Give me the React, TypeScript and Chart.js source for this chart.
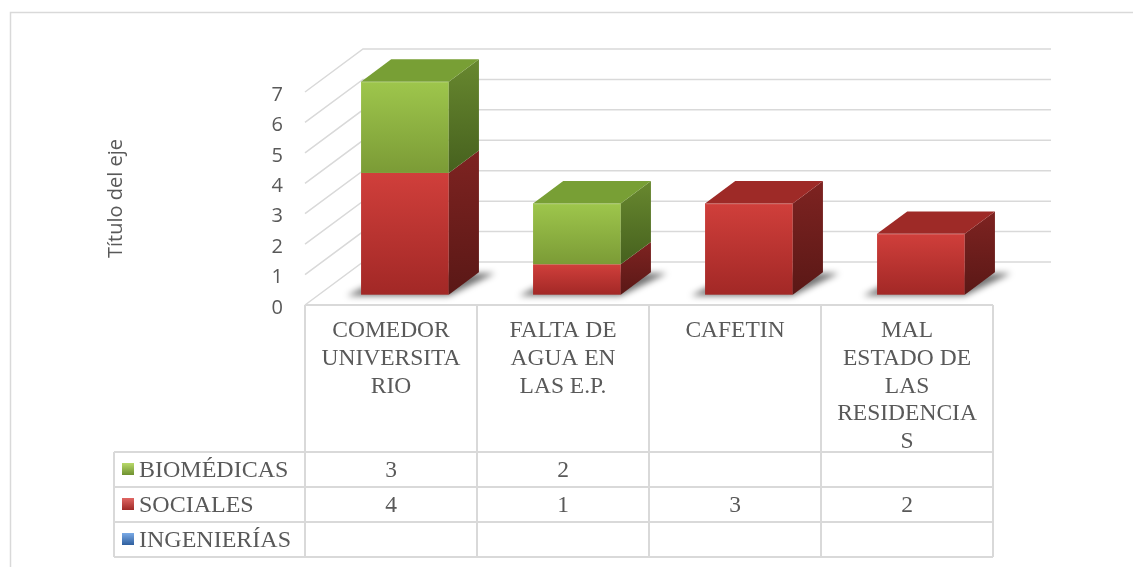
import React, { useEffect, useRef } from 'react';
import { Chart, registerables } from 'chart.js';

Chart.register(...registerables);

// ---- data ----
const categories = ['COMEDOR UNIVERSITARIO', 'FALTA DE AGUA EN LAS E.P.', 'CAFETIN', 'MAL ESTADO DE LAS RESIDENCIAS'];
const categoryLines = [
  ['COMEDOR', 'UNIVERSITA', 'RIO'],
  ['FALTA DE', 'AGUA EN', 'LAS E.P.'],
  ['CAFETIN'],
  ['MAL', 'ESTADO DE', 'LAS', 'RESIDENCIA', 'S'],
];
const ingenierias: (number | null)[] = [null, null, null, null];
const sociales: (number | null)[] = [4, 1, 3, 2];
const biomedicas: (number | null)[] = [3, 2, null, null];
const yTickValues = [0, 1, 2, 3, 4, 5, 6, 7];
const axisTitle = 'Título del eje';
const seriesNames = ['INGENIERÍAS', 'SOCIALES', 'BIOMÉDICAS'];

// ---- style ----
const DX = 58, DY = -43; // floor depth vector
const F0 = 0.24, F1 = 0.76; // bar depth (front/back fraction)
const GRID = '#d9d9d9';
const TEXT = '#595959';
const SERIF = '"Liberation Serif", "Times New Roman", serif';
const SANS = '"Open Sans", "Noto Sans", sans-serif';

const palette = [
  { f0: '#5b8fd0', f1: '#3a6aa8', s0: '#2f5588', s1: '#223f66', t: '#3f6fae', key0: '#7aaae6', key1: '#2f5f9e' },
  { f0: '#d03f3b', f1: '#a22826', s0: '#7e2321', s1: '#5a1816', t: '#9e2a27', key0: '#e06663', key1: '#9e2a27' },
  { f0: '#9ec64c', f1: '#7b9b36', s0: '#68882f', s1: '#46611e', t: '#789f35', key0: '#b8d96a', key1: '#6f9130' },
];

function drawBox(ctx: CanvasRenderingContext2D, xl: number, xr: number, yt: number, yb: number, col: any, drawTop: boolean) {
  const fx = DX * F0, fy = DY * F0;
  const dX = DX * (F1 - F0), dY = DY * (F1 - F0);
  const L = xl + fx, R = xr + fx, T = yt + fy, B = yb + fy;
  // front
  let g = ctx.createLinearGradient(0, T, 0, B);
  g.addColorStop(0, col.f0);
  g.addColorStop(1, col.f1);
  ctx.fillStyle = g;
  ctx.fillRect(L, T, R - L, B - T);
  // side
  ctx.beginPath();
  ctx.moveTo(R, T);
  ctx.lineTo(R + dX, T + dY);
  ctx.lineTo(R + dX, B + dY);
  ctx.lineTo(R, B);
  ctx.closePath();
  g = ctx.createLinearGradient(0, T + dY, 0, B);
  g.addColorStop(0, col.s0);
  g.addColorStop(1, col.s1);
  ctx.fillStyle = g;
  ctx.fill();
  if (drawTop) {
    ctx.beginPath();
    ctx.moveTo(L, T);
    ctx.lineTo(R, T);
    ctx.lineTo(R + dX, T + dY);
    ctx.lineTo(L + dX, T + dY);
    ctx.closePath();
    ctx.fillStyle = col.t;
    ctx.fill();
    ctx.strokeStyle = 'rgba(255,255,255,0.18)';
    ctx.lineWidth = 1;
    ctx.beginPath();
    ctx.moveTo(L + 1, T + 0.5);
    ctx.lineTo(R - 1, T + 0.5);
    ctx.stroke();
  }
}

const wallPlugin = {
  id: 'wall3d',
  beforeDatasetsDraw(chart: any) {
    const { ctx, chartArea } = chart;
    const y = chart.scales.y;
    ctx.save();
    ctx.strokeStyle = GRID;
    ctx.lineWidth = 1.5;
    yTickValues.forEach((v) => {
      const py = y.getPixelForValue(v);
      ctx.beginPath();
      ctx.moveTo(chartArea.left, py);
      ctx.lineTo(chartArea.left + DX, py + DY);
      ctx.lineTo(chartArea.right + DX, py + DY);
      ctx.stroke();
    });
    ctx.restore();
  },
};

const boxesPlugin = {
  id: 'boxes3d',
  afterDatasetsDraw(chart: any) {
    const { ctx } = chart;
    const n = chart.data.labels.length;
    const dsCount = chart.data.datasets.length;
    ctx.save();
    // shadows
    for (let j = 0; j < n; j++) {
      const m0 = chart.getDatasetMeta(0).data[j];
      const x0 = m0.x - m0.width / 2, x1 = m0.x + m0.width / 2;
      const base = chart.scales.y.getPixelForValue(0);
      let any = false;
      for (let i = 0; i < dsCount; i++) if (chart.data.datasets[i].data[j]) any = true;
      if (!any) continue;
      const fx = DX * F0, fy = DY * F0, bx = DX * F1, by = DY * F1;
      ctx.save();
      ctx.filter = 'blur(3px)';
      ctx.fillStyle = 'rgba(0,0,0,0.55)';
      ctx.beginPath();
      ctx.moveTo(x0 + fx - 14, base + fy + 1);
      ctx.lineTo(x1 + fx, base + fy + 1);
      ctx.lineTo(x1 + bx + 16, base + by + 1);
      ctx.lineTo(x0 + bx, base + by + 1);
      ctx.closePath();
      ctx.fill();
      ctx.restore();
    }
    // boxes
    for (let j = 0; j < n; j++) {
      let topIdx = -1;
      for (let i = 0; i < dsCount; i++) {
        const v = chart.data.datasets[i].data[j];
        if (v !== null && v !== undefined && v !== 0) topIdx = i;
      }
      for (let i = 0; i < dsCount; i++) {
        const v = chart.data.datasets[i].data[j];
        if (v === null || v === undefined || v === 0) continue;
        const el = chart.getDatasetMeta(i).data[j];
        const xl = el.x - el.width / 2, xr = el.x + el.width / 2;
        drawBox(ctx, xl, xr, Math.min(el.y, el.base), Math.max(el.y, el.base), palette[i], i === topIdx);
      }
    }
    ctx.restore();
  },
};

const tablePlugin = {
  id: 'dataTable',
  afterDraw(chart: any) {
    const { ctx, chartArea } = chart;
    const x = chart.scales.x;
    const n = chart.data.labels.length;
    const colW = (chartArea.right - chartArea.left) / n;
    const top = chartArea.bottom;
    const headerBottom = top + 147;
    const rowH = 35;
    const legendLeft = 114;
    const rows = [2, 1, 0]; // dataset indices, top to bottom
    const tableBottom = headerBottom + rowH * rows.length;
    ctx.save();
    ctx.strokeStyle = GRID;
    ctx.lineWidth = 2;
    ctx.beginPath();
    ctx.moveTo(chartArea.left, top);
    ctx.lineTo(chartArea.right, top);
    for (let c = 0; c <= n; c++) {
      const cx = chartArea.left + c * colW;
      ctx.moveTo(cx, top);
      ctx.lineTo(cx, tableBottom);
    }
    for (let r = 0; r <= rows.length; r++) {
      const ry = headerBottom + r * rowH;
      ctx.moveTo(legendLeft, ry);
      ctx.lineTo(chartArea.right, ry);
    }
    ctx.moveTo(legendLeft, headerBottom);
    ctx.lineTo(legendLeft, tableBottom);
    ctx.stroke();

    ctx.fillStyle = TEXT;
    ctx.font = `23.5px ${SERIF}`;
    ctx.textAlign = 'center';
    ctx.textBaseline = 'alphabetic';
    for (let j = 0; j < n; j++) {
      const cx = x.getPixelForValue(j);
      categoryLines[j].forEach((line, k) => {
        ctx.fillText(line, cx, top + 32 + k * 27.8);
      });
    }
    rows.forEach((dsi, r) => {
      const ry = headerBottom + r * rowH;
      const ds = chart.data.datasets[dsi];
      const col = palette[dsi];
      const kx = 122, ky = ry + 11, ks = 12;
      const g = ctx.createLinearGradient(0, ky, 0, ky + ks);
      g.addColorStop(0, col.key0);
      g.addColorStop(1, col.key1);
      ctx.fillStyle = g;
      ctx.fillRect(kx, ky, ks, ks);
      ctx.fillStyle = TEXT;
      ctx.textAlign = 'left';
      ctx.font = `24px ${SERIF}`;
      ctx.fillText(ds.label, 139, ry + 25);
      ctx.font = `23.5px ${SERIF}`;
      ctx.textAlign = 'center';
      for (let j = 0; j < n; j++) {
        const v = ds.data[j];
        if (v === null || v === undefined) continue;
        ctx.fillText(String(v), x.getPixelForValue(j), ry + 25);
      }
    });
    ctx.lineWidth = 1.5;
    ctx.strokeRect(10.5, 12.5, 1140, 600);
    ctx.restore();
  },
};

export default function App() {
  const ref = useRef<HTMLCanvasElement>(null);
  useEffect(() => {
    const chart = new Chart(ref.current!, {
      type: 'bar',
      data: {
        labels: categories,
        datasets: [
          { label: seriesNames[0], data: ingenierias, backgroundColor: 'rgba(0,0,0,0)', borderWidth: 0 },
          { label: seriesNames[1], data: sociales, backgroundColor: 'rgba(0,0,0,0)', borderWidth: 0 },
          { label: seriesNames[2], data: biomedicas, backgroundColor: 'rgba(0,0,0,0)', borderWidth: 0 },
        ],
      },
      options: {
        animation: false,
        responsive: false,
        devicePixelRatio: 1,
        events: [],
        layout: { padding: { left: 100, top: 92, right: 140, bottom: 262 } },
        datasets: { bar: { categoryPercentage: 1, barPercentage: 0.51 } },
        plugins: { legend: { display: false }, tooltip: { enabled: false } },
        scales: {
          x: { type: 'category', stacked: true, display: false },
          y: {
            stacked: true,
            min: 0,
            max: 7,
            afterFit: (scale: any) => { scale.width = 205; },
            grid: { display: false, drawTicks: false },
            border: { display: false },
            ticks: { stepSize: 1, padding: 22, labelOffset: 3, color: TEXT, font: { family: SANS, size: 20 } },
            title: { display: true, text: axisTitle, color: TEXT, font: { family: SANS, size: 20 } },
          },
        },
      },
      plugins: [wallPlugin, boxesPlugin, tablePlugin],
    } as any);
    return () => chart.destroy();
  }, []);
  return (
    <div style={{ position: 'absolute', left: 0, top: 0, width: 1133, height: 567, background: '#fff' }}>
      <canvas ref={ref} width={1133} height={567} style={{ display: 'block', width: 1133, height: 567 }} />
    </div>
  );
}
